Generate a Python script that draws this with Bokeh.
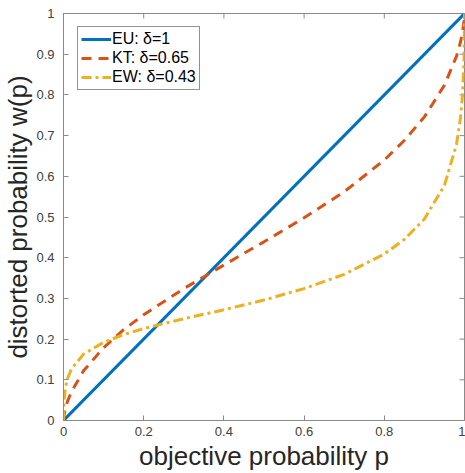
import math
from bokeh.plotting import figure
from bokeh.models import FixedTicker, Range1d, Legend, LegendItem
from bokeh.embed import file_html
from bokeh.resources import INLINE

# Data
p_eu = [0.0, 1.0]
w_eu = [0.0, 1.0]

p_kt = [0.0, 0.001, 0.005, 0.01, 0.02, 0.05, 0.1, 0.15, 0.2, 0.3, 0.4, 0.5,
        0.6, 0.7, 0.8, 0.85, 0.9, 0.95, 0.98, 0.99, 0.995, 0.999, 1.0]
w_kt = [0.0, 0.011, 0.031, 0.047, 0.071, 0.122, 0.179, 0.223, 0.260, 0.324, 0.382, 0.439,
        0.498, 0.562, 0.640, 0.688, 0.746, 0.824, 0.895, 0.930, 0.954, 0.983, 1.0]

p_ew = [0.0, 0.001, 0.005, 0.01, 0.02, 0.05, 0.1, 0.15, 0.2, 0.3, 0.4, 0.5,
        0.6, 0.7, 0.8, 0.85, 0.9, 0.95, 0.98, 0.99, 0.995, 0.999, 1.0]
w_ew = [0.0, 0.046, 0.082, 0.103, 0.127, 0.163, 0.192, 0.211, 0.226, 0.250, 0.272, 0.296,
        0.324, 0.359, 0.409, 0.445, 0.495, 0.578, 0.678, 0.744, 0.799, 0.891, 1.0]

labels = ["EU: δ=1", "KT: δ=0.65", "EW: δ=0.43"]
x_ticks = [0, 0.2, 0.4, 0.6, 0.8, 1]
y_ticks = [0, 0.1, 0.2, 0.3, 0.4, 0.5, 0.6, 0.7, 0.8, 0.9, 1]

blue = "#0072BD"
red = "#D95319"
yellow = "#EDB120"
axis_col = "#8a8a8a"

x0, x1 = 0, 1
y0, y1 = 0, 1

p = figure(width=465, height=473, output_backend="svg", toolbar_location=None,
           x_range=Range1d(x0, x1), y_range=Range1d(y0, y1),
           min_border_left=62, min_border_right=1, min_border_top=13, min_border_bottom=40)
p.grid.visible = False
p.outline_line_color = axis_col
p.outline_line_width = 1

# mirrored inward ticks on the top and right edges (clipped to the frame)
p.scatter(x_ticks, [y1] * len(x_ticks), marker="dash", angle=math.pi / 2, size=10,
          line_color=axis_col, line_width=1)
p.scatter([x1] * len(y_ticks), y_ticks, marker="dash", size=10,
          line_color=axis_col, line_width=1)

l1 = p.line(p_eu, w_eu, line_color=blue, line_width=3)
l2 = p.line(p_kt, w_kt, line_color=red, line_width=3, line_dash="10 7")
l3 = p.line(p_ew, w_ew, line_color=yellow, line_width=3, line_dash="10 4 3 4")

font = "Liberation Sans"

for ax, ticks in ((p.xaxis[0], x_ticks), (p.yaxis[0], y_ticks)):
    ax.ticker = FixedTicker(ticks=ticks)
    ax.major_label_overrides = {t: ("%g" % t) for t in ticks}
    ax.major_tick_in = 5
    ax.major_tick_out = 0
    ax.minor_tick_line_color = None
    ax.axis_line_color = axis_col
    ax.major_tick_line_color = axis_col
    ax.major_label_text_font = font
    ax.major_label_text_font_size = "13px"
    ax.major_label_text_color = "#404040"
    ax.axis_label_text_font = font
    ax.axis_label_text_font_size = "26px"
    ax.axis_label_text_font_style = "normal"
    ax.axis_label_text_color = "#262626"

p.xaxis[0].axis_label = "objective probability p"
p.yaxis[0].axis_label = "distorted probability w(p)"
p.xaxis[0].major_label_standoff = 6
p.yaxis[0].major_label_standoff = 9
p.xaxis[0].axis_label_standoff = 2
p.yaxis[0].axis_label_standoff = 0

legend = Legend(items=[LegendItem(label=labels[0], renderers=[l1]),
                       LegendItem(label=labels[1], renderers=[l2]),
                       LegendItem(label=labels[2], renderers=[l3])],
                location=(14, 330))
legend.label_text_font = font
legend.label_text_font_size = "16px"
legend.label_text_color = "#000000"
legend.border_line_color = "#262626"
legend.border_line_width = 1
legend.background_fill_alpha = 1
legend.glyph_width = 30
legend.glyph_height = 18
legend.label_height = 18
legend.label_standoff = 1
legend.spacing = 1
legend.padding = 3
legend.margin = 0
p.add_layout(legend, "center")

open("out.html", "w").write(file_html(p, INLINE))
